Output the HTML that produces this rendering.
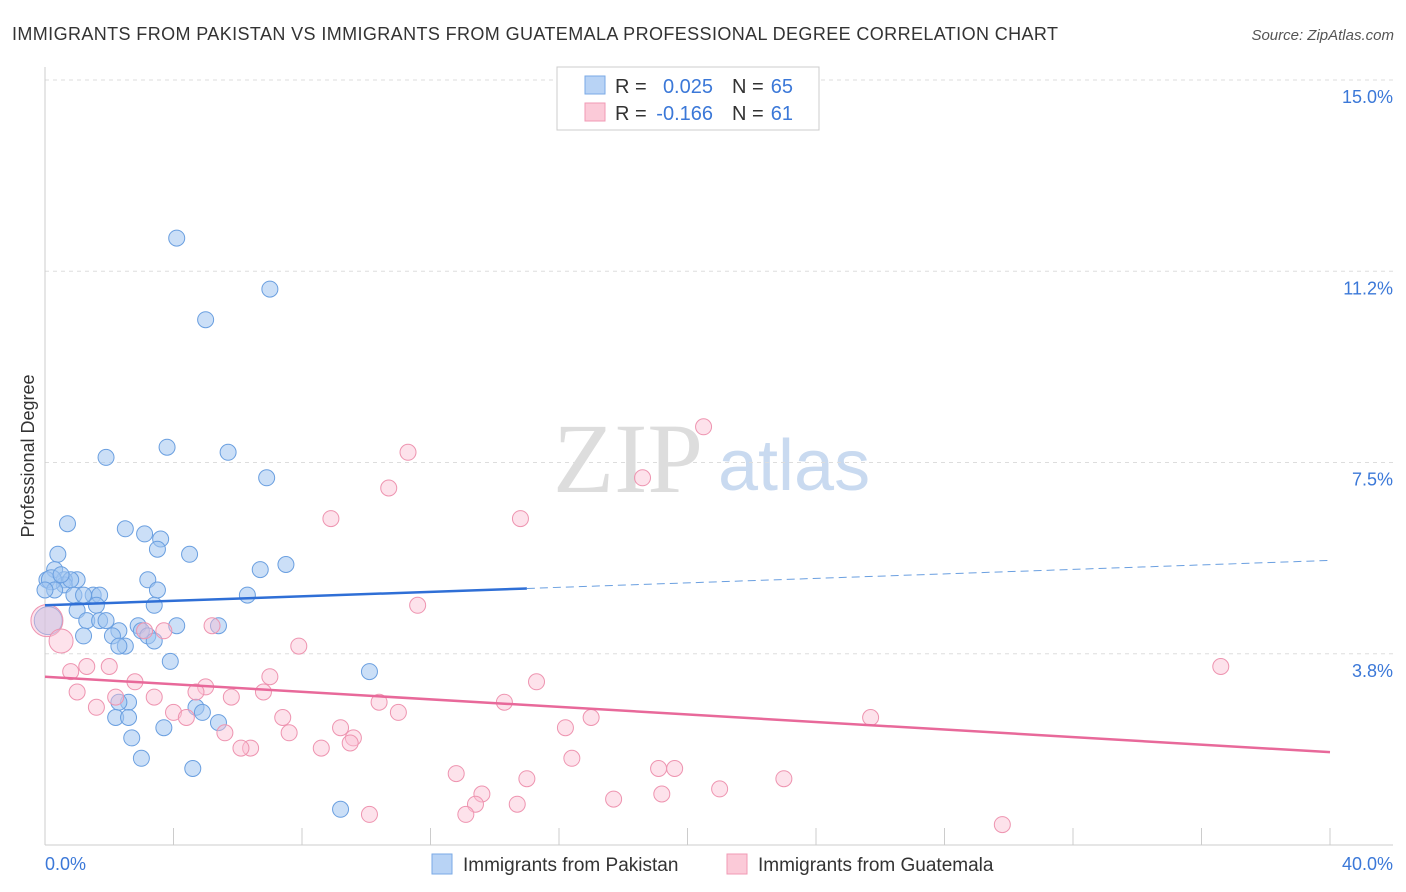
<!DOCTYPE html>
<html><head><meta charset="utf-8">
<style>
body{margin:0;background:#fff;font-family:"Liberation Sans",sans-serif;}
#wrap{position:relative;width:1406px;height:892px;overflow:hidden;}
</style></head>
<body>
<div id="wrap">
<svg id="svg" width="1406" height="892" xmlns="http://www.w3.org/2000/svg">
<text x="12" y="40" font-size="18" fill="#333" textLength="1046">IMMIGRANTS FROM PAKISTAN VS IMMIGRANTS FROM GUATEMALA PROFESSIONAL DEGREE CORRELATION CHART</text>
<text x="1394" y="40" font-size="15" fill="#555" font-style="italic" text-anchor="end">Source: ZipAtlas.com</text>
<text x="553" y="492" font-size="100" fill="#ddd" font-family="Liberation Serif">ZIP</text>
<text x="718" y="490" font-size="72" fill="#c9daf0">atlas</text>
<text transform="translate(34,456) rotate(-90)" font-size="18" fill="#333" text-anchor="middle">Professional Degree</text>
<g id="grid"></g><g id="pts"></g><g id="lines"></g>
<g>
<rect x="557" y="67" width="262" height="63" fill="#fff" stroke="#ccc"/>
<rect x="585" y="76" width="20" height="18" fill="#b8d3f5" stroke="#7aa9e6"/>
<rect x="585" y="103" width="20" height="18" fill="#fbcad8" stroke="#f09ab4"/>
<text x="615" y="93" font-size="20" fill="#333">R =</text>
<text x="713" y="93" font-size="20" fill="#3b78d8" text-anchor="end">0.025</text>
<text x="732" y="93" font-size="20" fill="#333">N =</text>
<text x="793" y="93" font-size="20" fill="#3b78d8" text-anchor="end">65</text>
<text x="615" y="120" font-size="20" fill="#333">R =</text>
<text x="713" y="120" font-size="20" fill="#3b78d8" text-anchor="end">-0.166</text>
<text x="732" y="120" font-size="20" fill="#333">N =</text>
<text x="793" y="120" font-size="20" fill="#3b78d8" text-anchor="end">61</text>
</g>
<g>
<rect x="432" y="854" width="20" height="20" fill="#b8d3f5" stroke="#7aa9e6"/>
<text x="463" y="871" font-size="19" fill="#333">Immigrants from Pakistan</text>
<rect x="727" y="854" width="20" height="20" fill="#fbcad8" stroke="#f09ab4"/>
<text x="758" y="871" font-size="19" fill="#333">Immigrants from Guatemala</text>
</g>
<text x="45" y="870" font-size="18" fill="#3b78d8">0.0%</text>
<text x="1393" y="870" font-size="18" fill="#3b78d8" text-anchor="end">40.0%</text>
</svg>
</div>
<script>
const yTicks=[15,11.25,7.5,3.75];
const yTickLabels=["15.0%","11.2%","7.5%","3.8%"];
const xTicks=[0,4,8,12,16,20,24,28,32,36,40];
const pakX=[4.1,7.0,5.0,3.8,5.7,1.9,6.9,0.7,2.5,3.1,3.6,3.5,4.5,0.4,7.5,6.7,0.3,3.2,1.0,0.06,0.6,0.6,3.5,6.3,0.9,1.5,1.7,1.2,1.6,3.4,1.0,1.3,1.7,1.9,2.9,4.1,5.4,2.3,3.0,1.2,2.1,3.2,3.4,2.5,2.3,3.9,10.1,4.7,2.6,2.3,4.9,2.2,2.6,5.4,3.7,2.7,3.0,4.6,9.2,0.1,0.2,0.3,0.0,0.8,0.5];
const pakY=[11.9,10.9,10.3,7.8,7.7,7.6,7.2,6.3,6.2,6.1,6.0,5.8,5.7,5.7,5.5,5.4,5.4,5.2,5.2,5.2,5.2,5.1,5.0,4.9,4.9,4.9,4.9,4.9,4.7,4.7,4.6,4.4,4.4,4.4,4.3,4.3,4.3,4.2,4.2,4.1,4.1,4.1,4.0,3.9,3.9,3.6,3.4,2.7,2.8,2.8,2.6,2.5,2.5,2.4,2.3,2.1,1.7,1.5,0.7,4.4,5.2,5.0,5.0,5.2,5.3];
const pakR=[8,8,8,8,8,8,8,8,8,8,8,8,8,8,8,8,8,8,8,8,8,8,8,8,8,8,8,8,8,8,8,8,8,8,8,8,8,8,8,8,8,8,8,8,8,8,8,8,8,8,8,8,8,8,8,8,8,8,8,14,10,8,8,8,8];
const guaX=[20.5,11.3,18.6,10.7,8.9,14.8,11.6,0.06,0.5,7.9,5.2,3.1,3.7,36.6,1.3,2.0,0.8,15.3,7.0,2.8,5.0,4.7,6.8,1.0,2.2,3.4,5.8,14.3,10.4,1.6,4.0,11.0,4.4,25.7,7.4,17.0,16.2,9.2,5.6,7.6,9.6,9.5,6.4,6.1,8.6,16.4,12.8,19.1,19.6,15.0,23.0,13.6,21.0,19.2,17.7,13.4,14.7,10.1,13.1,29.8];
const guaY=[8.2,7.7,7.2,7.0,6.4,6.4,4.7,4.4,4.0,3.9,4.3,4.2,4.2,3.5,3.5,3.5,3.4,3.2,3.3,3.2,3.1,3.0,3.0,3.0,2.9,2.9,2.9,2.8,2.8,2.7,2.6,2.6,2.5,2.5,2.5,2.5,2.3,2.3,2.2,2.2,2.1,2.0,1.9,1.9,1.9,1.7,1.4,1.5,1.5,1.3,1.3,1.0,1.1,1.0,0.9,0.8,0.8,0.6,0.6,0.4];
const guaR=[8,8,8,8,8,8,8,16,12,8,8,8,8,8,8,8,8,8,8,8,8,8,8,8,8,8,8,8,8,8,8,8,8,8,8,8,8,8,8,8,8,8,8,8,8,8,8,8,8,8,8,8,8,8,8,8,8,8,8,8];
const blueTrend=[4.7,5.03];const blueSolidEnd=15;const blueDashEnd=[40,5.58];
const pinkTrend=[3.3,1.82];
const NS="http://www.w3.org/2000/svg";
const X=v=>45+v*32.125, Y=v=>845-v*51.0;
function mk(t,a,p){const e=document.createElementNS(NS,t);for(const k in a)e.setAttribute(k,a[k]);p.appendChild(e);return e;}
const grid=document.getElementById('grid'),pts=document.getElementById('pts'),lines=document.getElementById('lines');
yTicks.forEach((t,i)=>{
 const l=mk('line',{x1:45,x2:1393,y1:Y(t),y2:Y(t),stroke:'#ddd','stroke-dasharray':'4,4'},grid);
 
 
 const tx=mk('text',{x:1393,y:Y(t)+23,'font-size':18,fill:'#3b78d8','text-anchor':'end'},grid);
 tx.textContent=yTickLabels[i];
 
 
});
mk('line',{x1:45,x2:45,y1:67,y2:845,stroke:'#ccc'},grid);
const ax=mk('line',{x1:45,x2:1393,y1:845,y2:845,stroke:'#ccc'},grid);


xTicks.forEach(t=>{const k=mk('line',{x1:X(t),x2:X(t),y1:828,y2:845,stroke:'#ccc'},grid);
 
 });
pakX.forEach((v,i)=>{const c=mk('circle',{cx:X(v),cy:Y(pakY[i]),r:pakR[i],fill:'rgba(160,196,240,0.55)',stroke:'#6a9fe0','stroke-width':1},pts);
 
 });
guaX.forEach((v,i)=>{const c=mk('circle',{cx:X(v),cy:Y(guaY[i]),r:guaR[i],fill:'rgba(250,190,210,0.45)',stroke:'#ee94b0','stroke-width':1},pts);
 
 });
const b1=mk('line',{x1:X(0),y1:Y(blueTrend[0]),x2:X(blueSolidEnd),y2:Y(blueTrend[1]),stroke:'#2f6fd6','stroke-width':2.5},lines);


const b2=mk('line',{x1:X(blueSolidEnd),y1:Y(blueTrend[1]),x2:X(blueDashEnd[0]),y2:Y(blueDashEnd[1]),stroke:'#6a9fe0','stroke-width':1,'stroke-dasharray':'8,5'},lines);


const p1=mk('line',{x1:X(0),y1:Y(pinkTrend[0]),x2:X(40),y2:Y(pinkTrend[1]),stroke:'#e8699a','stroke-width':2.5},lines);


</script>
</body></html>
